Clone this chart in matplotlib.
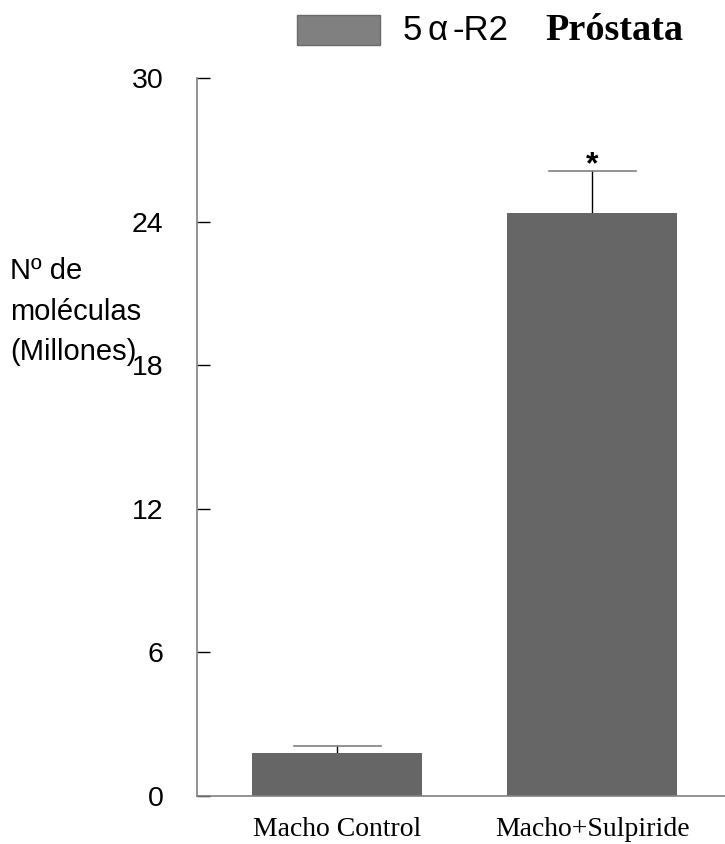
import matplotlib
matplotlib.use("Agg")
import matplotlib.pyplot as plt
import numpy as np

# data
groups = ["Macho Control", "Macho+Sulpiride"]
values = [1.78, 24.37]
errors = [0.29, 1.76]
yticks = [0, 6, 12, 18, 24, 30]
series_parts = ["5", "\u03b1", "-R2"]
tissue = "Próstata"

bar_color = "#666666"
spine_color = "#808080"

fig = plt.figure(figsize=(7.25, 8.44), dpi=100)
ax = fig.add_axes([0.2713, 0.0569, 0.7287, 0.8507])

x = np.arange(len(groups))
ax.bar(x, values, width=0.667, color=bar_color, zorder=2)

# upper error bars only
for xi, v, e in zip(x, values, errors):
    ax.plot([xi, xi], [v, v + e], color="black", lw=1, zorder=1)
    ax.plot([xi - 0.17, xi + 0.17], [v + e, v + e], color=spine_color, lw=1.2, zorder=1)

# significance mark
ax.text(x[1], values[1] + errors[1] - 0.1, "*", ha="center", va="baseline",
        fontsize=23, fontfamily="Liberation Sans", fontweight="bold")

ax.set_xlim(-0.552, 1.52)
ax.set_ylim(0, 30)
ax.set_yticks(yticks)
ax.set_yticklabels([str(t) for t in yticks], fontsize=20.5, fontfamily="Liberation Sans")
ax.tick_params(axis="y", direction="in", length=9.5, width=1, color="black", pad=24)
ax.set_xticks(x)
ax.set_xticklabels(groups, fontsize=20, fontfamily="Liberation Serif")
ax.tick_params(axis="x", length=0, pad=15)

for side in ["top", "right"]:
    ax.spines[side].set_visible(False)
for side in ["left", "bottom"]:
    ax.spines[side].set_color(spine_color)
    ax.spines[side].set_linewidth(1.2)

# y-axis label, written horizontally on the left
fig.text(0.014, 0.695, "N\u00ba de\nmoléculas\n(Millones)", ha="left", va="top",
         fontsize=21, fontfamily="Liberation Sans", linespacing=1.55)

# legend-like header
fig.patches.append(plt.Rectangle((297 / 725, 1 - 45 / 844), 83 / 725, 30 / 844,
                                 transform=fig.transFigure, facecolor="#808080",
                                 edgecolor="#6a6a6a", lw=1))
for px, part in zip([403, 427, 452], series_parts):
    fig.text(px / 725, 1 - 30 / 844, part, ha="left", va="center",
             fontsize=25, fontfamily="Liberation Sans")
fig.text(545 / 725, 1 - 30 / 844, tissue, ha="left", va="center",
         fontsize=27.5, fontfamily="Liberation Serif", fontweight="bold")

fig.savefig("out.png", dpi=100)
